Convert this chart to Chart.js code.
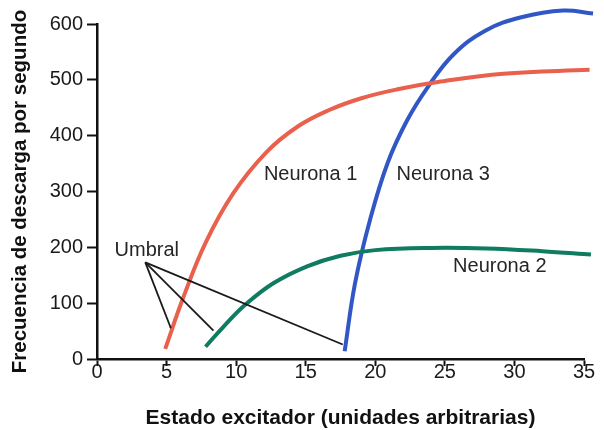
<!DOCTYPE html>
<html>
<head>
<meta charset="utf-8">
<script src="https://cdn.jsdelivr.net/npm/chart.js@4/dist/chart.umd.min.js"></script>
<style>
  html, body { margin: 0; padding: 0; background: #ffffff; }
  #wrap { width: 604px; height: 430px; }
</style>
</head>
<body>
<div id="wrap"><canvas id="c" width="604" height="430"></canvas></div>
<script>
// ---- data ----
const xTicks = [0, 5, 10, 15, 20, 25, 30, 35];
const yTicks = [0, 100, 200, 300, 400, 500, 600];

const n1X = [4.9, 6.2, 7.8, 9.8, 12.2, 14.4, 16.6, 19.0, 21.6, 24.5, 29.2, 35.4];
const n1Y = [18, 110, 208, 297, 371, 416, 445, 467, 483, 496, 511, 518];

const n2X = [7.8, 9.1, 10.65, 12.7, 15.1, 17.5, 20, 24, 28, 32, 35.5];
const n2Y = [22, 58, 97, 136, 166, 185, 195, 199, 198, 193, 187];

const n3X = [17.8, 18.54, 19.62, 20.9, 22.3, 23.8, 25.6, 27.9, 30.5, 33.5, 35.65];
const n3Y = [14, 135, 249, 352, 428, 488, 545, 588, 612, 624, 619];

const umbralOriginX = 3.47;
const umbralOriginY = 173;
const umbralTargetX = [5.31, 8.37, 17.66];
const umbralTargetY = [55, 51, 26];

const labelTexts = ["Neurona 1", "Neurona 3", "Neurona 2", "Umbral"];
const labelX = [15.35, 24.88, 28.95, 3.58];
const labelY = [330, 330, 166, 194];

const xTitle = "Estado excitador (unidades arbitrarias)";
const yTitle = "Frecuencia de descarga por segundo";

// ---- build ----
const pts = (xs, ys) => xs.map((x, i) => ({ x: x, y: ys[i] }));
const FONT = "'Liberation Sans', Arial, sans-serif";

const curve = (label, xs, ys, color) => ({
  label: label,
  data: pts(xs, ys),
  borderColor: color,
  borderWidth: 4,
  pointRadius: 0,
  tension: 0.4,
  borderCapStyle: 'butt',
  clip: false,
  fill: false
});

const umbralSets = umbralTargetX.map((tx, i) => ({
  label: 'umbral' + i,
  data: [{ x: umbralOriginX, y: umbralOriginY }, { x: tx, y: umbralTargetY[i] }],
  borderColor: '#1a1a1a',
  borderWidth: 1.8,
  pointRadius: 0,
  tension: 0,
  clip: false,
  fill: false
}));

const labelPlugin = {
  id: 'labels',
  afterDatasetsDraw(chart) {
    const ctx = chart.ctx;
    const xs = chart.scales.x, ys = chart.scales.y;
    ctx.save();
    ctx.font = "20px " + FONT;
    ctx.fillStyle = '#262626';
    ctx.textAlign = 'center';
    ctx.textBaseline = 'middle';
    labelTexts.forEach((t, i) => {
      ctx.fillText(t, xs.getPixelForValue(labelX[i]), ys.getPixelForValue(labelY[i]));
    });
    ctx.restore();
  }
};

new Chart(document.getElementById('c'), {
  type: 'line',
  data: {
    datasets: [
      ...umbralSets,
      curve('Neurona 1', n1X, n1Y, '#e9604d'),
      curve('Neurona 2', n2X, n2Y, '#0f7b60'),
      curve('Neurona 3', n3X, n3Y, '#3157c6')
    ]
  },
  options: {
    responsive: false,
    animation: false,
    layout: { padding: { top: 24, right: 20, bottom: 0, left: 0 } },
    plugins: { legend: { display: false }, tooltip: { enabled: false } },
    scales: {
      x: {
        type: 'linear',
        min: 0, max: 35,
        afterBuildTicks: s => { s.ticks = xTicks.map(v => ({ value: v })); },
        afterFit: s => { s.height = 71; },
        border: { display: true, color: '#111', width: 2.5 },
        grid: { drawOnChartArea: false, drawTicks: true, tickLength: 7, tickColor: '#111', tickWidth: 2 },
        ticks: { color: '#1a1a1a', font: { family: FONT, size: 20, lineHeight: 1 }, padding: -4, maxRotation: 0 },
        title: { display: true, text: xTitle, color: '#111', font: { family: FONT, size: 21, weight: 'bold' }, padding: { top: 0, bottom: -1 } }
      },
      y: {
        min: 0, max: 600,
        afterBuildTicks: s => { s.ticks = yTicks.map(v => ({ value: v })); },
        afterFit: s => { s.width = 97; },
        border: { display: true, color: '#111', width: 2.5 },
        grid: { drawOnChartArea: false, drawTicks: true, tickLength: 10, tickColor: '#111', tickWidth: 2 },
        ticks: { color: '#1a1a1a', font: { family: FONT, size: 20 }, padding: 4 },
        title: { display: true, text: yTitle, color: '#111', font: { family: FONT, size: 20.5, weight: 'bold' }, padding: { top: 8.5, bottom: 0 } }
      }
    }
  },
  plugins: [labelPlugin]
});
</script>
</body>
</html>
